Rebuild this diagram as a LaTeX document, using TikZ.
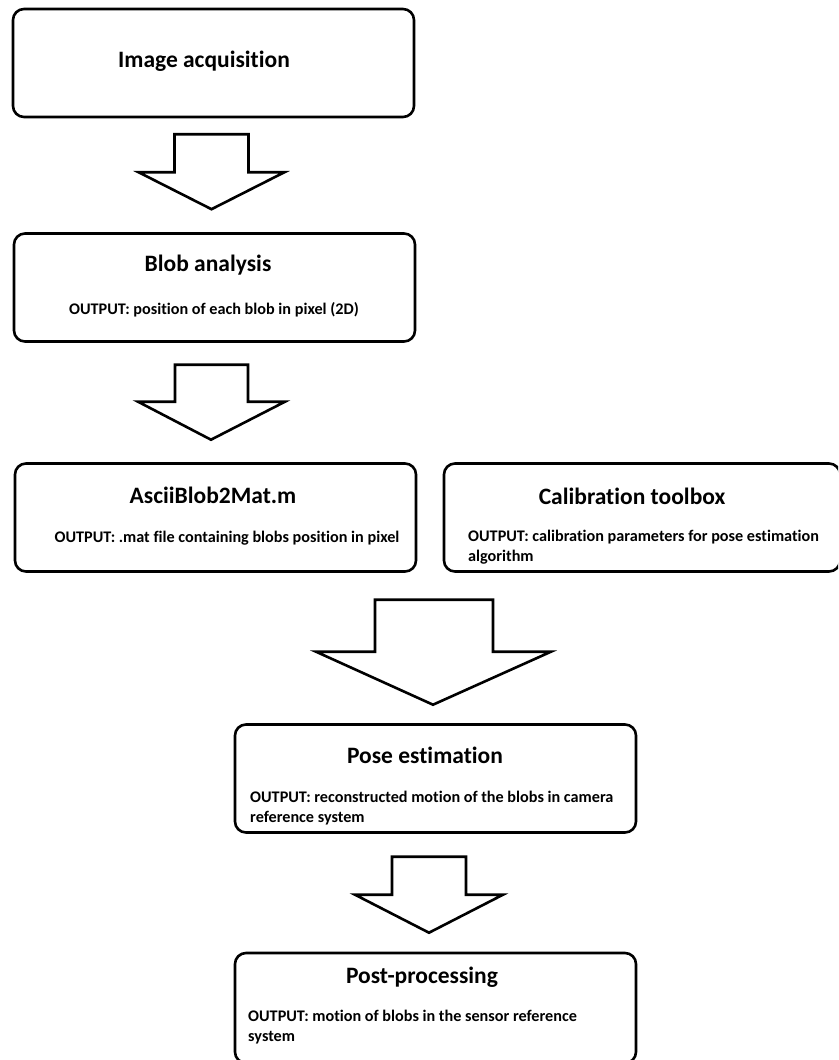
\documentclass[tikz,border=0pt]{standalone}
\usepackage{fontspec}
\setmainfont{Carlito}[Ligatures=NoCommon]
\usetikzlibrary{calc}

\begin{document}
\begin{tikzpicture}[x=1pt,y=-1pt,
  box/.style={draw,line width=2.6pt,rounded corners=11pt,minimum width=401pt,minimum height=108pt},
  title/.style={inner sep=0pt,font=\bfseries\fontsize{23.5}{28}\selectfont},
  outtext/.style={inner sep=0pt,align=left,font=\bfseries\fontsize{16.2}{19.5}\selectfont},
  fat/.style={draw,line width=2.6pt,line join=miter}]

\clip (0,0) rectangle (838,1060);

% boxes
\path (213.5,63) node[box] (img) {};
\path (214.5,287.5) node[box] (blob) {};
\path (215.5,517.5) node[box] (ascii) {};
\path (642,517.5) node[box,minimum width=396pt] (calib) {};
\path (435.5,778.5) node[box] (pose) {};
\path (435.5,1008) node[box,minimum height=110pt] (post) {};

% texts
\path (204,61) node[title] (imgT) {Image acquisition};
\path (208,265) node[title] (blobT) {Blob analysis};
\path (214,310) node[outtext] (blobO) {OUTPUT: position of each blob in pixel (2D)};
\path (213,495) node[title] (asciiT) {AsciiBlob2Mat.m};
\path (227,538) node[outtext] (asciiO) {OUTPUT: .mat file containing blobs position in pixel};
\path (632,496) node[title] (calibT) {Calibration toolbox};
\path (468,547) node[outtext,anchor=west] (calibO) {OUTPUT: calibration parameters for pose estimation\\algorithm};
\path (425,755) node[title] (poseT) {Pose estimation};
\path (250,808) node[outtext,anchor=west] (poseO) {OUTPUT: reconstructed motion of the blobs in camera\\reference system};
\path (422,977) node[title] (postT) {Post-processing};
\path (248,1027) node[outtext,anchor=west] (postO) {OUTPUT: motion of blobs in the sensor reference\\system};

% block arrows
\coordinate (tip1) at ($(blob.north)+(-3,-23)$);
\draw[fat] (tip1) -- ++(-73,-37) -- ++(36,0) -- ++(0,-38) -- ++(74,0) -- ++(0,38) -- ++(36,0) -- cycle;
\coordinate (tip2) at ($(ascii.north)+(-4.5,-22.5)$);
\draw[fat] (tip2) -- ++(-73,-38) -- ++(37,0) -- ++(0,-37) -- ++(73,0) -- ++(0,37) -- ++(37,0) -- cycle;
\coordinate (tip3) at ($(pose.north)+(-2.5,-18.5)$);
\draw[fat] (tip3) -- ++(-117,-53) -- ++(59,0) -- ++(0,-52) -- ++(118,0) -- ++(0,52) -- ++(58,0) -- cycle;
\coordinate (tip4) at ($(post.north)+(-6.5,-19)$);
\draw[fat] (tip4) -- ++(-74,-38) -- ++(37,0) -- ++(0,-38) -- ++(74,0) -- ++(0,38) -- ++(37,0) -- cycle;

\end{tikzpicture}
\end{document}
